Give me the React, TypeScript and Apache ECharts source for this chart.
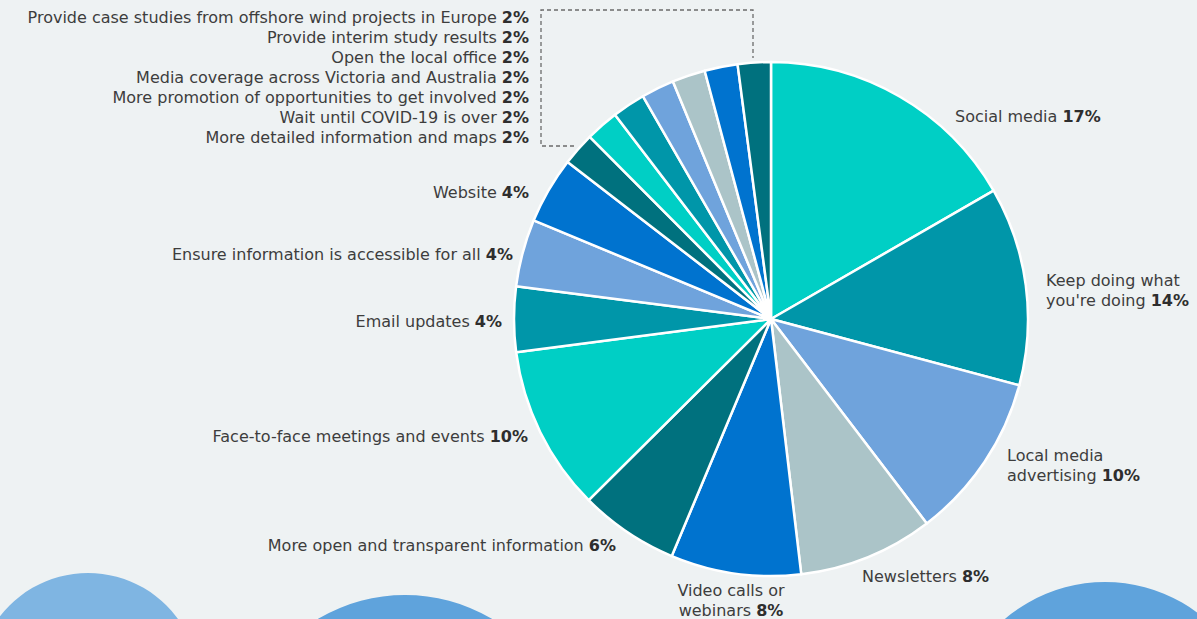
import React, { useEffect, useRef } from "react";
import * as echarts from "echarts";

// Categories clockwise from 12 o'clock
const categories = [
  "Social media",
  "Keep doing what\nyou're doing",
  "Local media\nadvertising",
  "Newsletters",
  "Video calls or\nwebinars",
  "More open and transparent information",
  "Face-to-face meetings and events",
  "Email updates",
  "Ensure information is accessible for all",
  "Website",
  "More detailed information and maps",
  "Wait until COVID-19 is over",
  "More promotion of opportunities to get involved",
  "Media coverage across Victoria and Australia",
  "Open the local office",
  "Provide interim study results",
  "Provide case studies from offshore wind projects in Europe",
];
// Slice shares as drawn in the picture
const sliceValues = [16.7, 12.5, 10.5, 8.5, 8.2, 6.25, 10.4, 4.1, 4.25, 4.2, 2.08, 2.08, 2.08, 2.08, 2.08, 2.08, 2.08];
// Percentages as printed in the labels
const printedPct = [17, 14, 10, 8, 8, 6, 10, 4, 4, 4, 2, 2, 2, 2, 2, 2, 2];

const palette = {
  turquoise: "#00cfc5",
  teal: "#0096a9",
  lightBlue: "#6fa3dc",
  grey: "#abc4c8",
  blue: "#0073cf",
  darkTeal: "#00717e",
};
const sliceColors = [
  palette.turquoise, palette.teal, palette.lightBlue, palette.grey, palette.blue, palette.darkTeal,
  palette.turquoise, palette.teal, palette.lightBlue, palette.blue,
  palette.darkTeal, palette.turquoise, palette.teal, palette.lightBlue, palette.grey, palette.blue, palette.darkTeal,
];

// Label anchor layout [x, y(center), align]
const labelLayoutPos: [number, number, string][] = [
  [955, 116, "left"],
  [1046, 290, "left"],
  [1007, 465, "left"],
  [862, 576, "left"],
  [731, 600, "center"],
  [616, 545, "right"],
  [528, 436, "right"],
  [502, 321, "right"],
  [513, 254, "right"],
  [529, 192, "right"],
  [529, 137, "right"],
  [529, 117, "right"],
  [529, 97, "right"],
  [529, 77, "right"],
  [529, 57, "right"],
  [529, 37, "right"],
  [529, 17, "right"],
];

const FONT = "'DejaVu Sans', 'Noto Sans', sans-serif";

export default function App() {
  const ref = useRef<HTMLDivElement>(null);
  useEffect(() => {
    if (!ref.current) return;
    const chart = echarts.init(ref.current, undefined, { renderer: "svg" });
    const data = categories.map((name, i) => ({
      name,
      value: sliceValues[i],
      itemStyle: { color: sliceColors[i] },
      label: { align: labelLayoutPos[i][2] as any },
    }));
    chart.setOption({
      animation: false,
      backgroundColor: "#eef2f3",
      graphic: [
        { type: "circle", shape: { cx: 88, cy: 684, r: 111 }, style: { fill: "#7fb5e2" }, z: 0 },
        { type: "circle", shape: { cx: 405, cy: 765, r: 170 }, style: { fill: "#5fa3dc" }, z: 0 },
        { type: "circle", shape: { cx: 1105, cy: 736, r: 154 }, style: { fill: "#5fa3dc" }, z: 0 },
        {
          type: "polyline",
          shape: { points: [[574, 146], [541, 146], [541, 10], [753, 10], [753, 58]] },
          style: { stroke: "#6b6b6b", lineWidth: 1.3, lineDash: [4, 3], fill: null },
          z: 0,
        },
      ],
      series: [
        {
          type: "pie",
          center: [771, 319],
          radius: [0, 257],
          startAngle: 90,
          clockwise: true,
          avoidLabelOverlap: false,
          data,
          itemStyle: { borderColor: "#ffffff", borderWidth: 2.5 },
          emphasis: { disabled: true },
          labelLine: { show: false },
          label: {
            show: true,
            position: "outside",
            fontFamily: FONT,
            fontSize: 16,
            color: "#3d3d3d",
            lineHeight: 20,
            formatter: (p: any) => `${p.name} {b|${printedPct[p.dataIndex]}%}`,
            rich: {
              b: { fontFamily: FONT, fontSize: 16, fontWeight: "bold", color: "#2e2e2e", lineHeight: 20 },
            },
          },
          labelLayout: (p: any) => {
            const pos = labelLayoutPos[p.dataIndex];
            return { x: pos[0], y: pos[1], align: pos[2], verticalAlign: "middle" };
          },
        },
      ],
    });
    return () => chart.dispose();
  }, []);
  return (
    <div
      ref={ref}
      style={{ position: "fixed", left: 0, top: 0, width: 1197, height: 619 }}
    />
  );
}
